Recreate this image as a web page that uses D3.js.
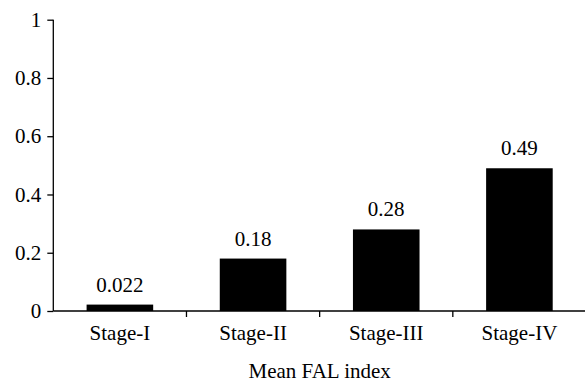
<!DOCTYPE html>
<html>
<head>
<meta charset="utf-8">
<script src="https://cdn.jsdelivr.net/npm/d3@7"></script>
<style>
  html, body { margin: 0; padding: 0; background: #fff; }
  svg { display: block; }
  text { font-family: "Liberation Serif", "Times New Roman", serif; fill: #000; }
</style>
</head>
<body>
<svg id="chart" width="585" height="382"></svg>
<script>
// Mean FAL index by tumour stage
const stages = ["Stage-I", "Stage-II", "Stage-III", "Stage-IV"];
const falIndex = [0.022, 0.18, 0.28, 0.49];
const valueLabels = ["0.022", "0.18", "0.28", "0.49"];
const yTicks = [0, 0.2, 0.4, 0.6, 0.8, 1];
const yTickLabels = ["0", "0.2", "0.4", "0.6", "0.8", "1"];
const xTitle = "Mean FAL index";

const svg = d3.select("#chart");
const plotLeft = 53.3, plotRight = 586, plotTop = 19.7, plotBottom = 311;
const fontSize = 21;

const x = d3.scaleBand().domain(stages).range([plotLeft, plotRight])
  .paddingInner(0.5).paddingOuter(0.25);
const y = d3.scaleLinear().domain([0, 1]).range([plotBottom, plotTop]);

// Bars
svg.append("g").selectAll("rect")
  .data(stages)
  .join("rect")
  .attr("x", d => x(d))
  .attr("width", x.bandwidth())
  .attr("y", (d, i) => y(falIndex[i]))
  .attr("height", (d, i) => y(0) - y(falIndex[i]))
  .attr("fill", "#000");

// Value labels above bars
svg.append("g").selectAll("text")
  .data(stages)
  .join("text")
  .attr("x", d => x(d) + x.bandwidth() / 2)
  .attr("y", (d, i) => y(falIndex[i]) - 13)
  .attr("text-anchor", "middle")
  .style("font-size", fontSize + "px")
  .text((d, i) => valueLabels[i]);

// Y axis
const yAxis = d3.axisLeft(y)
  .tickValues(yTicks)
  .tickFormat((d, i) => yTickLabels[i])
  .tickSize(6)
  .tickPadding(6);
const gy = svg.append("g").attr("transform", `translate(${plotLeft},0)`).call(yAxis);
gy.select(".domain").attr("d", `M0,${plotBottom}V${plotTop}`).attr("stroke", "#000").attr("stroke-width", 1.3);
gy.selectAll(".tick line").attr("stroke", "#000").attr("stroke-width", 1.3);
gy.selectAll(".tick text")
  .style("font-size", fontSize + "px")
  .style("font-family", "'Liberation Serif', 'Times New Roman', serif");

// X axis: category labels, baseline line and ticks between categories
const xAxis = d3.axisBottom(x).tickSize(0).tickPadding(14);
const gx = svg.append("g").attr("transform", `translate(0,${plotBottom})`).call(xAxis);
gx.select(".domain").remove();
gx.selectAll(".tick text")
  .style("font-size", fontSize + "px")
  .style("font-family", "'Liberation Serif', 'Times New Roman', serif");

svg.append("line")
  .attr("x1", plotLeft).attr("x2", plotRight)
  .attr("y1", plotBottom).attr("y2", plotBottom)
  .attr("stroke", "#000").attr("stroke-width", 1.3);

const gap = x.step() - x.bandwidth();
svg.append("g").selectAll("line")
  .data(stages.slice(0, -1))
  .join("line")
  .attr("x1", d => x(d) + x.bandwidth() + gap / 2)
  .attr("x2", d => x(d) + x.bandwidth() + gap / 2)
  .attr("y1", plotBottom)
  .attr("y2", plotBottom + 6)
  .attr("stroke", "#000").attr("stroke-width", 1.3);

// X axis title
svg.append("text")
  .attr("x", (plotLeft + plotRight) / 2)
  .attr("y", 378)
  .attr("text-anchor", "middle")
  .style("font-size", fontSize + "px")
  .text(xTitle);
</script>
</body>
</html>
